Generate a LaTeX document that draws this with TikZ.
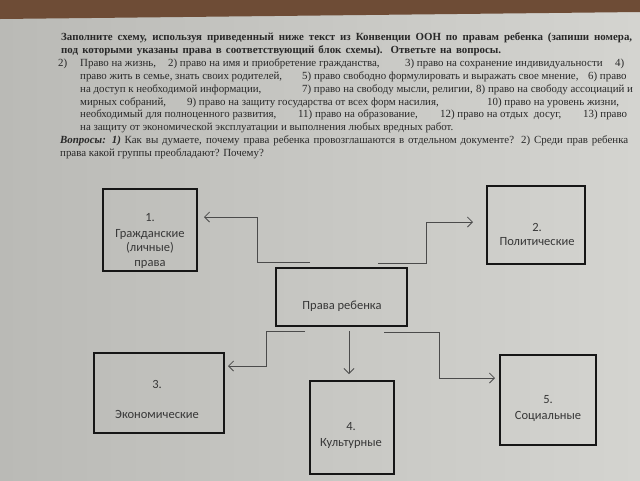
\documentclass[tikz,border=0pt]{standalone}
\usepackage{fontspec}
\setmainfont{Liberation Serif}
\newfontfamily\diagfont{Carlito}
\usetikzlibrary{arrows.meta}
\definecolor{paperL}{RGB}{212,212,208}
\definecolor{paperD}{RGB}{186,186,182}
\definecolor{wood}{RGB}{110,76,54}
\definecolor{ink}{RGB}{40,40,40}
\definecolor{boxink}{RGB}{22,22,22}
\definecolor{lineink}{RGB}{75,75,75}
\definecolor{labink}{RGB}{55,55,55}
\begin{document}
\begin{tikzpicture}[x=1pt,y=-1pt,
  blk/.style={draw=boxink, line width=2.6pt, inner sep=0pt},
  lab/.style={text=labink, font=\diagfont\fontsize{12.5}{14}\selectfont, anchor=base, inner sep=0pt},
  hd/.style={text=ink, font=\fontsize{10.9}{13}\selectfont, anchor=base west, inner sep=0pt},
  conn/.style={draw=lineink, line width=0.8pt, -{Straight Barb[length=5pt,width=10pt]}}]
\useasboundingbox (0,0) rectangle (640,480);
\shade[left color=paperD, right color=paperL] (0,0) rectangle (640,480);
\fill[wood] (0,0) -- (640,0) -- (640,12) -- (0,19) -- cycle;

% header text
\node[hd] (l1) at (61,40) {\makebox[571pt][s]{\bfseries Заполните схему, используя приведенный ниже текст из Конвенции ООН по правам ребенка (запиши номера,}};
\node[hd] (l2) at (61,53) {\makebox[440pt][s]{\bfseries под которыми указаны права в соответствующий блок схемы). Ответьте на вопросы.}};
\node[hd] (l3) at (58,66) {\makebox[22pt][l]{2)}\makebox[88pt][l]{Право на жизнь,}\makebox[237pt][l]{2) право на имя и приобретение гражданства,}\makebox[210pt][l]{3) право на сохранение индивидуальности}4)};
\node[hd] (l4) at (80,79) {\makebox[222pt][l]{право жить в семье, знать своих родителей,}\makebox[286pt][l]{5) право свободно формулировать и выражать свое мнение,}6) право};
\node[hd] (l5) at (80,92) {\makebox[222pt][l]{на доступ к необходимой информации,}\makebox[174pt][l]{7) право на свободу мысли, религии,}8) право на свободу ассоциаций и};
\node[hd] (l6) at (80,105) {\makebox[107pt][l]{мирных собраний,}\makebox[300pt][l]{9) право на защиту государства от всех форм насилия,}10) право на уровень жизни,};
\node[hd] (l7) at (80,117) {\makebox[218pt][l]{необходимый для полноценного развития,}\makebox[142pt][l]{11) право на образование,}\makebox[143pt][l]{12) право на отдых\ \ досуг,}13) право};
\node[hd] (l8) at (80,130) {на защиту от экономической эксплуатации и выполнения любых вредных работ.};
\node[hd] (l9) at (60,143) {\makebox[568pt][s]{\textbf{\textit{Вопросы: 1)}} Как вы думаете, почему права ребенка провозглашаются в отдельном документе? 2) Среди прав ребенка}};
\node[hd] (l10) at (60,156) {права какой группы преобладают? Почему?};

% boxes
\node[blk, minimum width=94pt, minimum height=82pt] (b1) at (150,230) {};
\node[blk, minimum width=98pt, minimum height=78pt] (b2) at (536,225) {};
\node[blk, minimum width=131pt, minimum height=58pt] (c) at (341.5,297) {};
\node[blk, minimum width=130pt, minimum height=80pt] (b3) at (159,393) {};
\node[blk, minimum width=84pt, minimum height=93pt] (b4) at (352,427.5) {};
\node[blk, minimum width=96pt, minimum height=90pt] (b5) at (548,400) {};

% labels
\node[lab] (t1a) at (150,221) {1.};
\node[lab] (t1b) at (150,237) {Гражданские};
\node[lab] (t1c) at (150,251) {(личные)};
\node[lab] (t1d) at (150,266) {права};
\node[lab] (t2a) at (537,231) {2.};
\node[lab] (t2b) at (537,245) {Политические};
\node[lab] (tc) at (342,309) {Права ребенка};
\node[lab] (t3a) at (157,388) {3.};
\node[lab] (t3b) at (157,418) {Экономические};
\node[lab] (t4a) at (351,430) {4.};
\node[lab] (t4b) at (351,446) {Культурные};
\node[lab] (t5a) at (548,403) {5.};
\node[lab] (t5b) at (548,419) {Социальные};

% connector coordinates
\coordinate (s1) at (310,262); \coordinate (k1) at (257,217); \coordinate (e1) at (204,217);
\coordinate (s2) at (378,263); \coordinate (k2) at (426,222); \coordinate (e2) at (473,222);
\coordinate (s3) at (305,331); \coordinate (k3) at (266,366); \coordinate (e3) at (228,366);
\coordinate (s4) at (349,331); \coordinate (e4) at (349,374);
\coordinate (s5) at (384,332); \coordinate (k5) at (439,378); \coordinate (e5) at (495,378);

\draw[conn] (s1) -| (k1) -- (e1);
\draw[conn] (s2) -| (k2) -- (e2);
\draw[conn] (s3) -| (k3) -- (e3);
\draw[conn] (s4) -- (e4);
\draw[conn] (s5) -| (k5) -- (e5);
\end{tikzpicture}
\end{document}
